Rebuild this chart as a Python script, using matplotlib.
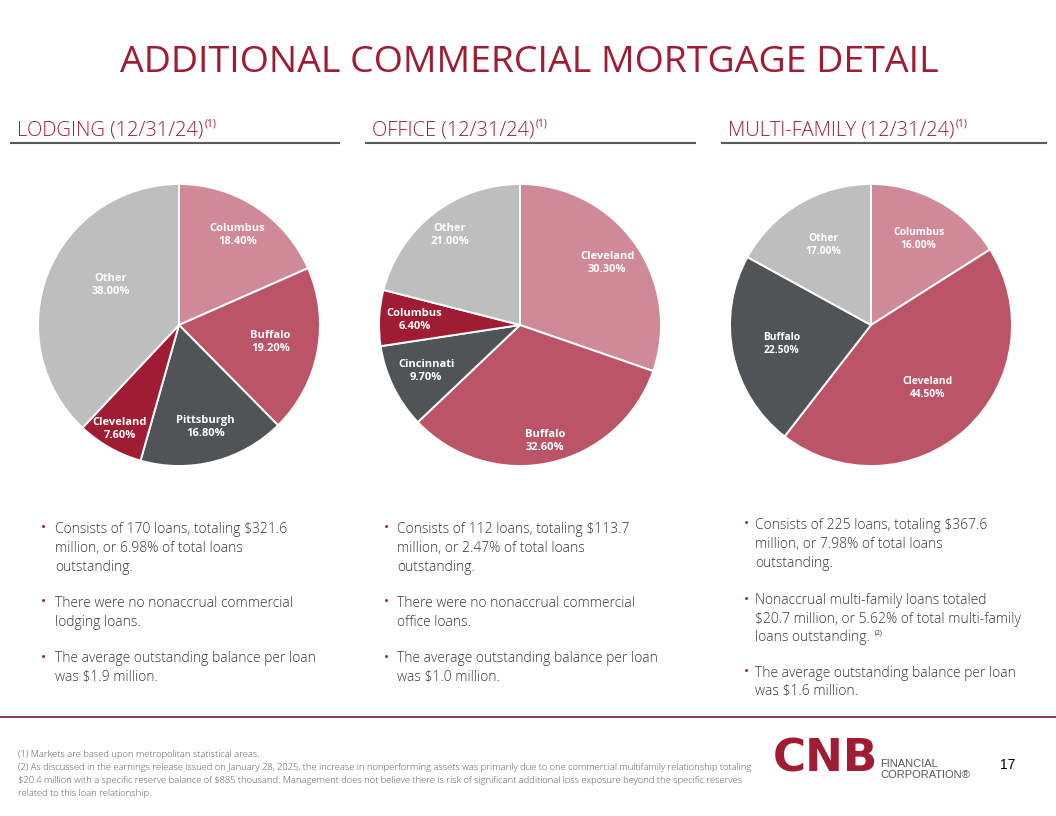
import matplotlib
matplotlib.use("Agg")
import matplotlib.pyplot as plt
import numpy as np

# ---- data ----
lodging_labels = ["Columbus", "Buffalo", "Pittsburgh", "Cleveland", "Other"]
lodging_pct = [18.4, 19.2, 16.8, 7.6, 38.0]

office_labels = ["Cleveland", "Buffalo", "Cincinnati", "Columbus", "Other"]
office_pct = [30.3, 32.6, 9.7, 6.4, 21.0]

multi_labels = ["Columbus", "Cleveland", "Buffalo", "Other"]
multi_pct = [16.0, 44.5, 22.5, 17.0]

headers = ["LODGING (12/31/24)", "OFFICE (12/31/24)", "MULTI-FAMILY (12/31/24)"]

lodging_bullets = [
    ["Consists of 170 loans, totaling $321.6", "million, or 6.98% of total loans", "outstanding."],
    ["There were no nonaccrual commercial", "lodging loans."],
    ["The average outstanding balance per loan", "was $1.9 million."],
]
office_bullets = [
    ["Consists of 112 loans, totaling $113.7", "million, or 2.47% of total loans", "outstanding."],
    ["There were no nonaccrual commercial", "office loans."],
    ["The average outstanding balance per loan", "was $1.0 million."],
]
multi_bullets = [
    ["Consists of 225 loans, totaling $367.6", "million, or 7.98% of total loans", "outstanding."],
    ["Nonaccrual multi-family loans totaled", "$20.7 million, or 5.62% of total multi-family",
     "loans outstanding."],
    ["The average outstanding balance per loan", "was $1.6 million."],
]

footnotes = [
    "(1) Markets are based upon metropolitan statistical areas.",
    "(2) As discussed in the earnings release issued on January 28, 2025, the increase in nonperforming "
    "assets was primarily due to one commercial multifamily relationship totaling",
    "$20.4 million with a specific reserve balance of $885 thousand. Management does not believe there "
    "is risk of significant additional loss exposure beyond the specific reserves",
    "related to this loan relationship.",
]

# colours
RED = "#A01C32"
PINK = "#D08A97"
MIDRED = "#BC5467"
DGREY = "#505457"
LGREY = "#BEBEBE"
TXT = "#383838"

W, H = 1056, 816
fig = plt.figure(figsize=(W / 100, H / 100), dpi=100)
bg = fig.add_axes([0, 0, 1, 1])
bg.set_xlim(0, W)
bg.set_ylim(H, 0)
bg.axis("off")
renderer = fig.canvas.get_renderer()

BODY = ["Open Sans", "DejaVu Sans"]


def fit_size(s, target_w, family, weight="normal", base=20):
    t = bg.text(0, 0, s, fontsize=base, family=family, weight=weight, parse_math=False)
    w = t.get_window_extent(renderer).width
    t.remove()
    return base * target_w / w


def text_width(t):
    return t.get_window_extent(renderer).width


# ---- title ----
title = "ADDITIONAL COMMERCIAL MORTGAGE DETAIL"
title_fam = ["Open Sans", "DejaVu Sans"]
bg.text(529, 72, title, fontsize=fit_size(title, 820, title_fam), family=title_fam,
        color=RED, ha="center", va="baseline", parse_math=False)

# ---- section headers ----
head_fam = ["Open Sans", "DejaVu Sans"]
head_size = fit_size(headers[0], 187, head_fam, "light")
head_x = [17, 372, 728]
line_x = [(10, 340), (365, 696), (721, 1047)]
for hx, (x0, x1), h in zip(head_x, line_x, headers):
    t = bg.text(hx, 135, h, fontsize=head_size, family=head_fam, weight="light", color=RED,
                va="baseline", parse_math=False)
    bg.text(hx + text_width(t) + 1, 127, "(1)", fontsize=head_size * 0.5, family=head_fam,
            color=RED, va="baseline")
    bg.plot([x0, x1], [142.5, 142.5], color="#595959", lw=1.5, solid_capstyle="butt")

# ---- pies ----
R = 141
pies = [
    (179, lodging_labels, lodging_pct, [PINK, MIDRED, DGREY, RED, LGREY],
     [0.76, 0.66, 0.75, 0.85, 0.56], [0, 0, 0, 0, -9], 8),
    (520, office_labels, office_pct, [PINK, MIDRED, DGREY, RED, LGREY],
     [0.76, 0.84, 0.74, 0.75, 0.81], [0, 0, 0, 0, 0], 8),
    (871, multi_labels, multi_pct, [PINK, MIDRED, DGREY, LGREY],
     [0.70, 0.60, 0.65, 0.66], [0, 0, 0, 0], 7.4),
]
cy = 325
for cx, labels, pct, cols, radii, offs, fs in pies:
    ax = fig.add_axes([(cx - R) / W, 1 - (cy + R) / H, 2 * R / W, 2 * R / H])
    wedges, _ = ax.pie(pct, colors=cols, startangle=90, counterclock=False,
                       wedgeprops=dict(edgecolor="white", linewidth=1.4))
    for w in wedges:
        w.set_clip_on(False)
    ax.set_xlim(-1, 1)
    ax.set_ylim(-1, 1)
    ax.axis("off")
    for w, name, p, r, off in zip(wedges, labels, pct, radii, offs):
        ang = np.deg2rad((w.theta1 + w.theta2) / 2 + off)
        ax.text(r * np.cos(ang), r * np.sin(ang), f"{name}\n{p:.2f}%", color="white",
                fontsize=fs, fontweight="bold", family=BODY, ha="center", va="center",
                linespacing=1.25)

# ---- bullets ----
body_size = fit_size(lodging_bullets[0][0], 232, BODY, "light")
cols_text = [
    (43, 55, lodging_bullets, [[533, 552, 571], [607, 626], [662, 681]]),
    (386, 397, office_bullets, [[533, 552, 571], [607, 626], [662, 681]]),
    (746, 755, multi_bullets, [[529, 548, 567], [604, 623, 641], [677, 695]]),
]
for bx, tx, bullets, ys in cols_text:
    for lines, yl in zip(bullets, ys):
        bg.text(bx, yl[0] - 4, "\u2022", fontsize=body_size * 1.0, color=RED, ha="center",
                va="center", family=BODY)
        for s, y in zip(lines, yl):
            t = bg.text(tx, y, s, fontsize=body_size, color=TXT, family=BODY, weight="light",
                        va="baseline", parse_math=False)
        if lines[-1] == "loans outstanding.":
            bg.text(tx + text_width(t) + 5, y - 6, "(2)", fontsize=body_size * 0.5,
                    color=TXT, family=BODY, va="baseline")

# ---- footer ----
bg.plot([0, W], [717, 717], color="#8C2A3A", lw=1.3)
foot_size = fit_size(footnotes[1], 732, BODY, "light")
for s, y in zip(footnotes, [757, 770, 783, 796]):
    bg.text(18, y, s, fontsize=foot_size, color="#595959", family=BODY, weight="light",
            va="baseline", parse_math=False)

# logo
logo_fam = ["DejaVu Sans"]
bg.text(773, 772, "CNB", fontsize=fit_size("CNB", 105, logo_fam, "heavy"), family=logo_fam,
        weight="heavy", color=RED, va="baseline")
arial = ["Liberation Sans", "DejaVu Sans"]
fin_size = fit_size("CORPORATION\u00ae", 90, arial)
bg.text(880, 767, "FINANCIAL", fontsize=fin_size, family=arial, color="#595959", va="baseline")
bg.text(880, 778, "CORPORATION\u00ae", fontsize=fin_size, family=arial, color="#595959",
        va="baseline")
bg.text(1000, 765, "17", fontsize=10, family=arial, color="black", va="center")

fig.savefig("out.png", dpi=100)
